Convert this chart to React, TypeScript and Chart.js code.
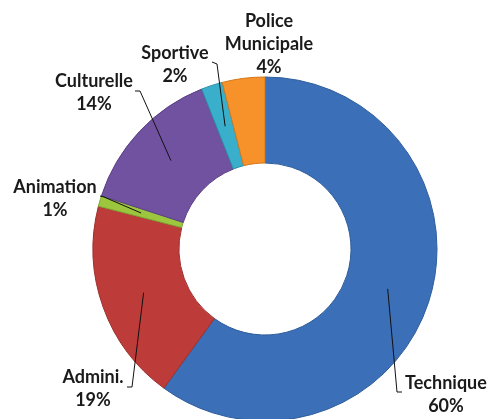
import React, { useEffect, useRef } from "react";
import { Chart, registerables } from "chart.js";

Chart.register(...registerables);

// ---- data ----
const categories: string[][] = [
  ["Technique"],
  ["Admini."],
  ["Animation"],
  ["Culturelle"],
  ["Sportive"],
  ["Police", "Municipale"],
];
const shares: number[] = [60, 19, 1, 14, 2, 4];
const sliceColors: string[] = ["#3b6fb7", "#bd3b39", "#9bc63e", "#7152a1", "#39afcb", "#f7922b"];
const sliceEdges: string[] = ["#2f5d9c", "#9c2f2d", "#7ea332", "#5a4083", "#2c8fa8", "#d2781c"];

// ---- label layout (text centre x, first line centre y, leader points from label side) ----
const labelLayout: { x: number; y: number; leader: [number, number][] | null }[] = [
  { x: 446, y: 383, leader: [[402, 392], [397, 392]] },
  { x: 93, y: 377, leader: [[127, 387], [132, 387]] },
  { x: 55, y: 187, leader: [[100, 196], [104, 197]] },
  { x: 94, y: 81, leader: [[135, 91], [140, 91]] },
  { x: 175, y: 53, leader: [[212, 62], [217, 64]] },
  { x: 269, y: 21, leader: null },
];

const labelPlugin = {
  id: "outsideLabels",
  afterDatasetsDraw(chart: any) {
    const ctx = chart.ctx as CanvasRenderingContext2D;
    const meta = chart.getDatasetMeta(0);
    ctx.save();
    meta.data.forEach((arc: any, i: number) => {
      const lay = labelLayout[i];
      if (!lay) return;
      if (lay.leader) {
        const c = arc.getCenterPoint();
        ctx.beginPath();
        ctx.strokeStyle = "#111";
        ctx.lineWidth = 1;
        ctx.moveTo(lay.leader[0][0], lay.leader[0][1]);
        for (let k = 1; k < lay.leader.length; k++) ctx.lineTo(lay.leader[k][0], lay.leader[k][1]);
        ctx.lineTo(c.x, c.y);
        ctx.stroke();
      }
      const lines = [...categories[i], `${shares[i]}%`];
      ctx.fillStyle = "#1a1a1a";
      ctx.font = "bold 18px Lato, 'Open Sans', sans-serif";
      ctx.textAlign = "center";
      ctx.textBaseline = "middle";
      lines.forEach((t, k) => ctx.fillText(t, lay.x, lay.y + k * 23));
    });
    ctx.restore();
  },
};

export default function App() {
  const ref = useRef<HTMLCanvasElement | null>(null);
  useEffect(() => {
    if (!ref.current) return;
    const chart = new Chart(ref.current, {
      type: "doughnut",
      data: {
        labels: categories,
        datasets: [
          {
            data: shares,
            backgroundColor: sliceColors,
            borderColor: sliceEdges,
            borderWidth: 1,
            radius: 172,
          } as any,
        ],
      },
      options: {
        responsive: false,
        animation: false,
        cutout: "50%",
        rotation: 0,
        layout: { padding: { left: 41, right: 0, top: 79, bottom: 0 } },
        plugins: {
          legend: { display: false },
          tooltip: { enabled: false },
        },
      },
      plugins: [labelPlugin],
    });
    return () => chart.destroy();
  }, []);
  return (
    <div style={{ position: "fixed", left: 0, top: 0, width: 489, height: 419, background: "#fff", overflow: "hidden" }}>
      <canvas ref={ref} width={489} height={419} style={{ width: 489, height: 419, display: "block" }} />
    </div>
  );
}
